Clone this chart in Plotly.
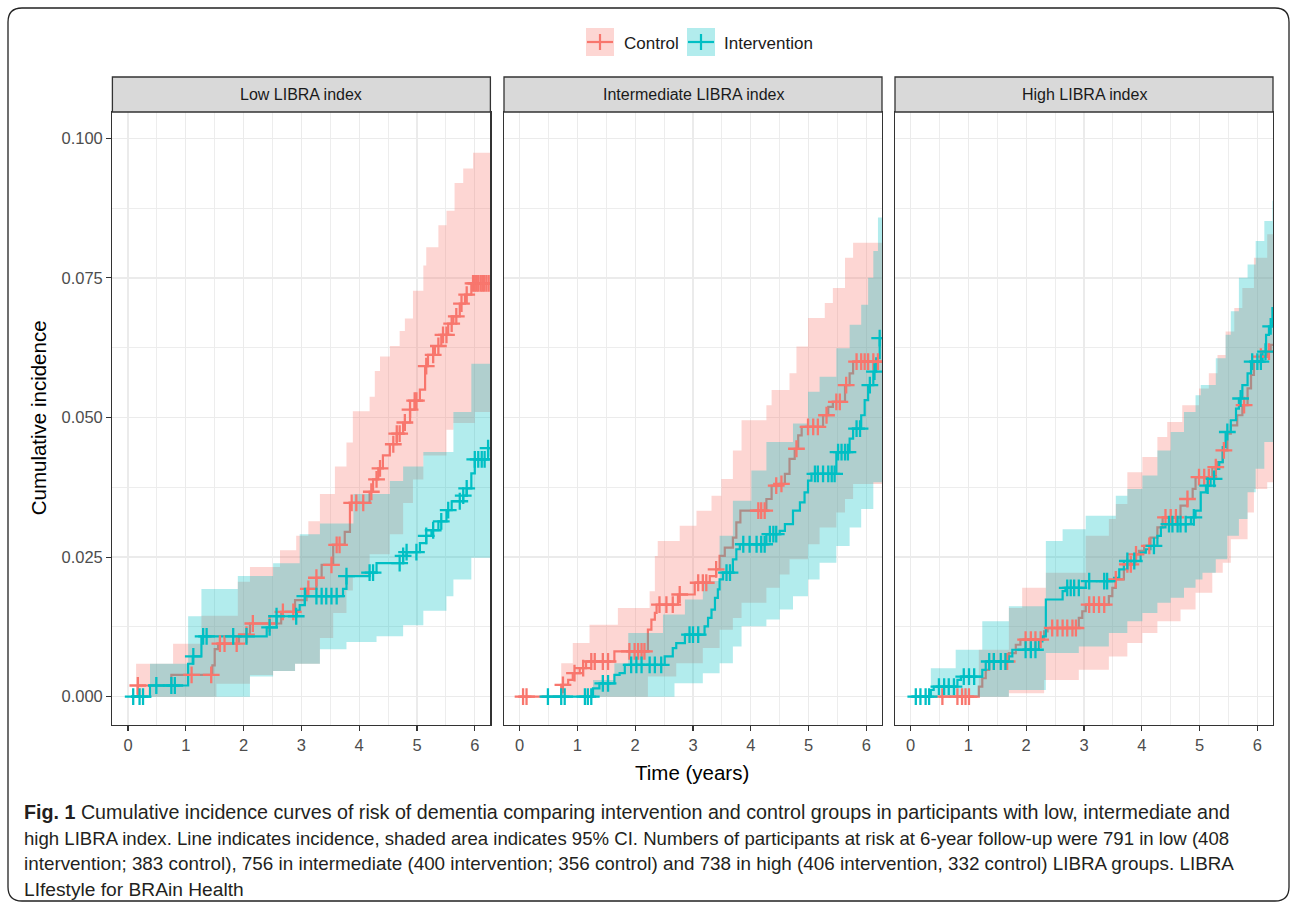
import plotly.graph_objects as go

W, H = 1292, 906
FONT = "Liberation Sans, Arial, Helvetica, sans-serif"
RED, TEAL = "#F8766D", "#00BFC4"
RED_FILL, TEAL_FILL = "rgba(248,118,109,0.3)", "rgba(0,191,196,0.3)"

panel_titles = ["Low LIBRA index", "Intermediate LIBRA index", "High LIBRA index"]
group_names = ["Control", "Intervention"]
x_ticks = [0, 1, 2, 3, 4, 5, 6]
x_minor = [0.5, 1.5, 2.5, 3.5, 4.5, 5.5]
y_ticks = [0.0, 0.025, 0.05, 0.075, 0.1]
y_tick_labels = ["0.000", "0.025", "0.050", "0.075", "0.100"]
y_minor = [0.0125, 0.0375, 0.0625, 0.0875]

# ---------------- Low LIBRA index ----------------
low_c_t = [0.10, 0.17, 0.75, 1.46, 1.50, 1.56, 1.92, 2.11, 2.65, 2.89, 3.09, 3.26, 3.35, 3.55, 3.75, 3.84, 4.18, 4.24,
           4.33, 4.41, 4.53, 4.65, 4.76, 4.88, 4.96, 5.05, 5.14, 5.19, 5.31, 5.42, 5.54, 5.63, 5.74, 5.83, 5.94, 6.28]
low_c_v = [0, 0.0020, 0.0039, 0.0056, 0.0085, 0.0095, 0.0111, 0.0131, 0.0152, 0.0173, 0.0193, 0.0213, 0.0236, 0.0272,
           0.0295, 0.0347, 0.0367, 0.0389, 0.0409, 0.0432, 0.0452, 0.0471, 0.0491, 0.0514, 0.0530, 0.0550, 0.0592,
           0.0612, 0.0628, 0.0648, 0.0668, 0.0681, 0.0704, 0.0720, 0.0740, 0.0740]
low_c_up_t = [0.14, 0.78, 1.27, 1.90, 2.11, 2.63, 2.91, 3.12, 3.32, 3.58, 3.78, 3.89, 4.18, 4.27, 4.36, 4.53, 4.70,
              4.79, 4.93, 5.11, 5.16, 5.37, 5.51, 5.65, 5.80, 5.97, 6.28]
low_c_up_v = [0.0059, 0.0095, 0.0145, 0.0206, 0.0232, 0.0262, 0.0288, 0.0314, 0.0363, 0.0412, 0.0455, 0.0511, 0.0537,
              0.0583, 0.0609, 0.0628, 0.0655, 0.0677, 0.0727, 0.0772, 0.0805, 0.0844, 0.0870, 0.0920, 0.0946, 0.0974,
              0.0974]
low_c_lo_t = [0.14, 1.53, 2.11, 2.51, 2.89, 3.32, 3.55, 3.78, 3.89, 4.18, 4.53, 4.76, 4.93, 5.11, 5.51, 5.63, 6.00, 6.28]
low_c_lo_v = [0, 0.0023, 0.0039, 0.0046, 0.0059, 0.0105, 0.0150, 0.0190, 0.0216, 0.0255, 0.0291, 0.0347, 0.0389,
              0.0432, 0.0478, 0.0490, 0.0510, 0.0510]
low_c_cens = [0.17, 1.10, 1.44, 1.59, 1.67, 1.88, 2.05, 2.16, 2.45, 2.68, 2.86, 3.12, 3.26, 3.52, 3.61, 3.66, 3.87,
              3.95, 4.07, 4.21, 4.30, 4.36, 4.59, 4.65, 4.70, 4.79, 4.88, 4.96, 4.99, 5.16, 5.28, 5.37, 5.45, 5.51,
              5.60, 5.68, 5.77, 5.86, 5.97, 6.00, 6.03, 6.06, 6.10, 6.13, 6.16, 6.20, 6.24]

low_i_t = [0.05, 0.38, 1.04, 1.12, 1.27, 2.40, 2.57, 2.92, 2.97, 3.06, 3.72, 3.78, 4.18, 4.30, 4.76, 4.82, 5.05, 5.16,
           5.25, 5.37, 5.51, 5.60, 5.80, 5.86, 5.94, 6.00, 6.23, 6.28]
low_i_v = [0, 0.0020, 0.0059, 0.0072, 0.0108, 0.0124, 0.0144, 0.0154, 0.0164, 0.0180, 0.0193, 0.0216, 0.0222, 0.0239,
           0.0252, 0.0259, 0.0275, 0.0288, 0.0298, 0.0314, 0.0334, 0.0350, 0.0360, 0.0373, 0.0400, 0.0425, 0.0445,
           0.0445]
low_i_up_t = [0.38, 1.04, 1.27, 1.90, 2.51, 2.97, 3.32, 3.90, 4.53, 4.76, 5.11, 5.63, 5.94, 6.28]
low_i_up_v = [0.0059, 0.0144, 0.0193, 0.0216, 0.0239, 0.0291, 0.0310, 0.0363, 0.0386, 0.0412, 0.0438, 0.0510, 0.0596,
              0.0596]
low_i_lo_t = [0.38, 2.11, 2.51, 2.89, 3.32, 3.78, 4.30, 4.76, 5.11, 5.51, 5.63, 5.94, 6.28]
low_i_lo_v = [0, 0.0036, 0.0046, 0.0059, 0.0085, 0.0098, 0.0108, 0.0128, 0.0154, 0.0180, 0.0210, 0.0249, 0.0249]
low_i_cens = [0.09, 0.20, 0.26, 0.49, 0.75, 0.81, 1.13, 1.30, 1.36, 1.82, 2.05, 2.45, 2.57, 2.91, 3.06, 3.26, 3.35,
              3.43, 3.52, 3.61, 3.78, 4.18, 4.24, 4.70, 4.76, 4.82, 4.99, 5.16, 5.28, 5.42, 5.54, 5.74, 5.80, 5.86,
              6.00, 6.06, 6.12, 6.17, 6.23]

# ---------------- Intermediate LIBRA index ----------------
int_c_t = [0.0, 0.72, 0.84, 0.92, 1.04, 1.15, 1.64, 2.22, 2.28, 2.34, 2.37, 2.74, 3.03, 3.29, 3.40, 3.46, 3.55, 3.69,
           3.75, 3.82, 4.27, 4.36, 4.50, 4.59, 4.67, 4.76, 4.82, 4.88, 5.25, 5.34, 5.42, 5.63, 5.71, 5.77, 6.28]
int_c_v = [0, 0.0021, 0.0030, 0.0042, 0.0051, 0.0063, 0.0081, 0.0120, 0.0138, 0.0150, 0.0165, 0.0183, 0.0204, 0.0216,
           0.0228, 0.0252, 0.0267, 0.0285, 0.0312, 0.0333, 0.0354, 0.0378, 0.0381, 0.0399, 0.0426, 0.0444, 0.0468,
           0.0483, 0.0504, 0.0519, 0.0528, 0.0558, 0.0579, 0.0600, 0.0600]
int_c_up_t = [0.72, 0.92, 1.21, 1.70, 2.25, 2.34, 2.39, 2.77, 3.06, 3.32, 3.49, 3.69, 3.84, 4.27, 4.36, 4.67, 4.79,
              4.99, 5.28, 5.42, 5.63, 5.77, 6.28]
int_c_up_v = [0.0060, 0.0096, 0.0129, 0.0159, 0.0189, 0.0252, 0.0279, 0.0306, 0.0333, 0.0360, 0.0390, 0.0441, 0.0495,
              0.0522, 0.0549, 0.0579, 0.0627, 0.0678, 0.0705, 0.0732, 0.0786, 0.0813, 0.0813]
int_c_lo_t = [0.72, 2.22, 2.71, 3.17, 3.46, 3.69, 3.84, 4.27, 4.50, 4.67, 4.99, 5.19, 5.48, 5.63, 5.77, 6.28]
int_c_lo_v = [0, 0.0036, 0.0060, 0.0087, 0.0120, 0.0141, 0.0168, 0.0195, 0.0219, 0.0246, 0.0273, 0.0303, 0.0330,
              0.0354, 0.0381, 0.0381]
int_c_cens = [0.06, 0.12, 0.75, 0.95, 1.10, 1.24, 1.30, 1.44, 1.53, 1.90, 1.99, 2.05, 2.11, 2.16, 2.42, 2.54, 2.65,
              2.77, 3.09, 3.17, 3.23, 3.40, 4.13, 4.18, 4.24, 4.44, 4.53, 4.79, 4.99, 5.08, 5.16, 5.31, 5.48, 5.54,
              5.65, 5.83, 5.91, 5.97, 6.03, 6.12, 6.20]

int_i_t = [0.38, 1.27, 1.38, 1.64, 1.73, 1.82, 2.51, 2.65, 2.71, 2.86, 3.20, 3.26, 3.32, 3.38, 3.43, 3.46, 3.52, 3.69,
           3.75, 3.81, 4.27, 4.50, 4.59, 4.73, 4.85, 4.93, 4.99, 5.05, 5.48, 5.71, 5.77, 5.91, 5.97, 6.03, 6.12, 6.17,
           6.23, 6.28]
int_i_v = [0, 0.0015, 0.0024, 0.0039, 0.0042, 0.0057, 0.0072, 0.0087, 0.0096, 0.0111, 0.0126, 0.0141, 0.0156, 0.0177,
           0.0192, 0.0210, 0.0222, 0.0246, 0.0264, 0.0273, 0.0291, 0.0297, 0.0309, 0.0333, 0.0348, 0.0366, 0.0387,
           0.0399, 0.0438, 0.0462, 0.0480, 0.0504, 0.0531, 0.0558, 0.0582, 0.0606, 0.0642, 0.0642]
int_i_up_t = [1.27, 1.64, 1.88, 2.48, 2.86, 3.17, 3.46, 3.69, 4.01, 4.27, 4.73, 4.99, 5.19, 5.48, 5.71, 5.91, 6.03,
              6.12, 6.20, 6.28]
int_i_up_v = [0.0030, 0.0060, 0.0114, 0.0147, 0.0174, 0.0207, 0.0288, 0.0351, 0.0405, 0.0456, 0.0489, 0.0546, 0.0573,
              0.0624, 0.0666, 0.0702, 0.0750, 0.0798, 0.0858, 0.0858]
int_i_lo_t = [1.27, 2.68, 3.17, 3.46, 3.69, 3.84, 4.27, 4.50, 4.73, 4.99, 5.19, 5.48, 5.71, 5.91, 6.12, 6.28]
int_i_lo_v = [0, 0.0024, 0.0042, 0.0060, 0.0090, 0.0126, 0.0138, 0.0156, 0.0180, 0.0210, 0.0240, 0.0270, 0.0303,
              0.0336, 0.0384, 0.0384]
int_i_cens = [0.49, 0.72, 0.78, 1.13, 1.18, 1.24, 1.44, 1.53, 1.93, 2.02, 2.11, 2.25, 2.34, 2.45, 2.94, 3.00, 3.09,
              3.58, 3.64, 3.87, 3.98, 4.10, 4.18, 4.24, 4.33, 4.39, 4.44, 5.11, 5.16, 5.25, 5.34, 5.40, 5.45, 5.51,
              5.57, 5.63, 5.68, 5.83, 5.89, 6.06, 6.14, 6.23]

# ---------------- High LIBRA index ----------------
high_c_t = [0.49, 1.18, 1.24, 1.30, 1.36, 1.70, 1.82, 1.90, 2.31, 2.37, 2.91, 2.97, 3.03, 3.43, 3.49, 3.55, 3.69, 3.75,
            3.87, 3.95, 4.04, 4.15, 4.27, 4.36, 4.67, 4.79, 4.88, 4.93, 5.22, 5.31, 5.40, 5.48, 5.54, 5.65, 5.74, 5.83,
            5.89, 5.94, 6.06, 6.17, 6.23, 6.28]
high_c_v = [0, 0.0018, 0.0033, 0.0048, 0.0063, 0.0078, 0.0093, 0.0102, 0.0117, 0.0123, 0.0141, 0.0153, 0.0165, 0.0180,
            0.0195, 0.0210, 0.0228, 0.0237, 0.0255, 0.0261, 0.0270, 0.0285, 0.0303, 0.0321, 0.0342, 0.0354, 0.0372,
            0.0393, 0.0411, 0.0420, 0.0441, 0.0471, 0.0486, 0.0504, 0.0522, 0.0552, 0.0576, 0.0600, 0.0609, 0.0618,
            0.0630, 0.0630]
high_c_up_t = [1.18, 1.70, 1.93, 2.34, 3.03, 3.43, 3.55, 3.75, 4.01, 4.27, 4.44, 4.70, 4.99, 5.16, 5.31, 5.45, 5.60,
               5.74, 5.94, 6.17, 6.28]
high_c_up_v = [0.0084, 0.0159, 0.0195, 0.0222, 0.0288, 0.0318, 0.0345, 0.0402, 0.0429, 0.0465, 0.0492, 0.0522, 0.0552,
               0.0579, 0.0612, 0.0654, 0.0696, 0.0732, 0.0786, 0.0828, 0.0828]
high_c_lo_t = [1.18, 1.70, 2.31, 2.91, 3.43, 3.75, 4.01, 4.27, 4.67, 4.93, 5.22, 5.40, 5.54, 5.83, 5.94, 6.17, 6.28]
high_c_lo_v = [0, 0.0006, 0.0030, 0.0048, 0.0072, 0.0096, 0.0114, 0.0135, 0.0156, 0.0186, 0.0222, 0.0240, 0.0282,
               0.0330, 0.0372, 0.0384, 0.0384]
high_c_cens = [0.55, 0.81, 0.89, 0.95, 1.01, 1.44, 1.67, 1.99, 2.08, 2.16, 2.25, 2.45, 2.54, 2.63, 2.71, 2.80, 2.86,
               3.09, 3.17, 3.26, 3.35, 3.55, 3.75, 3.81, 3.90, 4.13, 4.41, 4.50, 4.59, 4.79, 4.99, 5.08, 5.16, 5.28,
               5.42, 5.77, 6.06, 6.20]

high_i_t = [0.0, 0.35, 0.40, 0.81, 0.87, 1.24, 1.30, 1.70, 1.76, 2.22, 2.28, 2.34, 2.63, 2.68, 3.03, 3.52, 3.61, 3.69,
            3.98, 4.07, 4.15, 4.27, 4.33, 4.41, 4.85, 4.93, 5.02, 5.11, 5.19, 5.28, 5.34, 5.40, 5.45, 5.54, 5.63, 5.68,
            5.74, 5.83, 5.89, 6.09, 6.15, 6.20, 6.26, 6.28]
high_i_v = [0, 0.0012, 0.0018, 0.0030, 0.0036, 0.0048, 0.0063, 0.0072, 0.0084, 0.0099, 0.0108, 0.0174, 0.0189, 0.0195,
            0.0207, 0.0213, 0.0228, 0.0243, 0.0258, 0.0264, 0.0270, 0.0288, 0.0303, 0.0309, 0.0321, 0.0333, 0.0366,
            0.0378, 0.0390, 0.0408, 0.0420, 0.0447, 0.0474, 0.0495, 0.0516, 0.0534, 0.0558, 0.0579, 0.0600, 0.0618,
            0.0648, 0.0663, 0.0696, 0.0696]
high_i_up_t = [0.35, 0.78, 1.24, 1.70, 2.34, 2.63, 3.03, 3.55, 3.75, 4.01, 4.27, 4.50, 4.73, 4.93, 5.02, 5.28, 5.45,
               5.54, 5.68, 5.83, 5.97, 6.12, 6.26, 6.28]
high_i_up_v = [0.0051, 0.0084, 0.0135, 0.0162, 0.0279, 0.0300, 0.0324, 0.0360, 0.0372, 0.0396, 0.0441, 0.0474, 0.0510,
               0.0540, 0.0558, 0.0606, 0.0648, 0.0690, 0.0750, 0.0774, 0.0816, 0.0852, 0.0888, 0.0888]
high_i_lo_t = [0.35, 1.70, 2.34, 2.91, 3.43, 3.75, 4.01, 4.27, 4.50, 4.73, 4.93, 5.05, 5.28, 5.48, 5.68, 5.83, 5.97,
               6.12, 6.28]
high_i_lo_v = [0, 0.0012, 0.0078, 0.0090, 0.0114, 0.0135, 0.0150, 0.0168, 0.0177, 0.0195, 0.0210, 0.0222, 0.0246,
               0.0288, 0.0318, 0.0366, 0.0408, 0.0456, 0.0456]
high_i_cens = [0.09, 0.17, 0.26, 0.32, 0.49, 0.58, 0.66, 0.75, 0.92, 1.01, 1.10, 1.36, 1.44, 1.56, 1.64, 1.99, 2.08,
               2.16, 2.71, 2.77, 2.83, 2.91, 3.09, 3.35, 3.40, 3.75, 3.87, 4.21, 4.47, 4.53, 4.62, 4.67, 4.76, 4.90,
               5.14, 5.25, 5.48, 5.71, 5.91, 6.00, 6.06, 6.14, 6.23]

caption_lines = [
    "<b>Fig. 1</b> Cumulative incidence curves of risk of dementia comparing intervention and control groups in participants with low, intermediate and",
    "high LIBRA index. Line indicates incidence, shaded area indicates 95% CI. Numbers of participants at risk at 6-year follow-up were 791 in low (408",
    "intervention; 383 control), 756 in intermediate (400 intervention; 356 control) and 738 in high (406 intervention, 332 control) LIBRA groups. LIBRA",
    "LIfestyle for BRAin Health",
]
caption_sizes = [19.7, 18.6, 18.85, 19.2]

panels = [
    dict(ctrl=(low_c_t, low_c_v, low_c_lo_t, low_c_lo_v, low_c_up_t, low_c_up_v, low_c_cens),
         intv=(low_i_t, low_i_v, low_i_lo_t, low_i_lo_v, low_i_up_t, low_i_up_v, low_i_cens)),
    dict(ctrl=(int_c_t, int_c_v, int_c_lo_t, int_c_lo_v, int_c_up_t, int_c_up_v, int_c_cens),
         intv=(int_i_t, int_i_v, int_i_lo_t, int_i_lo_v, int_i_up_t, int_i_up_v, int_i_cens)),
    dict(ctrl=(high_c_t, high_c_v, high_c_lo_t, high_c_lo_v, high_c_up_t, high_c_up_v, high_c_cens),
         intv=(high_i_t, high_i_v, high_i_lo_t, high_i_lo_v, high_i_up_t, high_i_up_v, high_i_cens)),
]


def step_at(ts, vs, t):
    """Value of a right-continuous step function at time t."""
    v = vs[0]
    for ti, vi in zip(ts, vs):
        if ti <= t + 1e-9:
            v = vi
        else:
            break
    return v


def px(x):
    return x / W


def py(y):
    return 1 - y / H


panel_x = [(112.4, 490.4), (504.0, 882.0), (895.0, 1273.0)]
panel_top, panel_bot = 112.0, 724.6
strip_top = 77.0

fig = go.Figure()

for i, pdata in enumerate(panels):
    sfx = "" if i == 0 else str(i + 1)
    xa, ya = "x" + sfx, "y" + sfx

    def band(lo_t, lo_v, up_t, up_v, fillc):
        fig.add_trace(go.Scatter(x=lo_t, y=lo_v, mode="lines", line=dict(width=0, shape="hv"),
                                 hoverinfo="skip", showlegend=False, xaxis=xa, yaxis=ya))
        fig.add_trace(go.Scatter(x=up_t, y=up_v, mode="lines", line=dict(width=0, shape="hv"),
                                 fill="tonexty", fillcolor=fillc, hoverinfo="skip", showlegend=False,
                                 xaxis=xa, yaxis=ya))

    def curve(t, v, col):
        fig.add_trace(go.Scatter(x=t, y=v, mode="lines", line=dict(width=2.2, color=col, shape="hv"),
                                 hoverinfo="skip", showlegend=False, xaxis=xa, yaxis=ya))

    def cens(t, v, ct, col):
        fig.add_trace(go.Scatter(x=ct, y=[step_at(t, v, c) for c in ct], mode="markers",
                                 marker=dict(symbol="cross-thin", size=12, line=dict(width=2.3, color=col), color=col),
                                 hoverinfo="skip", showlegend=False, xaxis=xa, yaxis=ya))

    c = pdata["ctrl"]
    n = pdata["intv"]
    band(c[2], c[3], c[4], c[5], RED_FILL)
    curve(c[0], c[1], RED)
    band(n[2], n[3], n[4], n[5], TEAL_FILL)
    curve(n[0], n[1], TEAL)
    cens(c[0], c[1], c[6], RED)
    cens(n[0], n[1], n[6], TEAL)

tickfont = dict(family=FONT, size=16.5, color="#4D4D4D")
layout = dict(
    width=W, height=H, autosize=False,
    margin=dict(l=0, r=0, t=0, b=0),
    paper_bgcolor="white", plot_bgcolor="white",
    showlegend=False, hovermode=False,
    font=dict(family=FONT, color="#1A1A1A"),
)
for i, (x0, x1) in enumerate(panel_x):
    sfx = "" if i == 0 else str(i + 1)
    layout["xaxis" + sfx] = dict(
        domain=[px(x0), px(x1)], anchor="y" + sfx, range=[-0.27, 6.27],
        tickmode="array", tickvals=x_ticks, ticktext=[str(v) for v in x_ticks],
        ticks="outside", ticklen=5, tickwidth=1.1, tickcolor="#333333",
        showline=True, mirror=True, linecolor="#333333", linewidth=1.3,
        showgrid=True, gridcolor="#EBEBEB", gridwidth=1.3, zeroline=False,
        minor=dict(tickmode="array", tickvals=x_minor, showgrid=True, gridcolor="#EBEBEB", gridwidth=0.9, ticks=""),
        tickfont=tickfont, fixedrange=True,
    )
    layout["yaxis" + sfx] = dict(
        domain=[py(panel_bot), py(panel_top)], anchor="x" + sfx, range=[-0.005, 0.1047],
        tickmode="array", tickvals=y_ticks, ticktext=y_tick_labels,
        ticks="outside" if i == 0 else "", ticklen=5, tickwidth=1.1, tickcolor="#333333",
        showticklabels=(i == 0),
        showline=True, mirror=True, linecolor="#333333", linewidth=1.3,
        showgrid=True, gridcolor="#EBEBEB", gridwidth=1.3, zeroline=False,
        minor=dict(tickmode="array", tickvals=y_minor, showgrid=True, gridcolor="#EBEBEB", gridwidth=0.9, ticks=""),
        tickfont=tickfont, fixedrange=True,
    )

shapes = []
annotations = []
for i, (x0, x1) in enumerate(panel_x):
    shapes.append(dict(type="rect", xref="paper", yref="paper", x0=px(x0), x1=px(x1),
                       y0=py(panel_top), y1=py(strip_top), fillcolor="#D9D9D9",
                       line=dict(color="#333333", width=1.3), layer="above"))
    annotations.append(dict(text=panel_titles[i], xref="paper", yref="paper", x=px((x0 + x1) / 2),
                            y=py((panel_top + strip_top) / 2), showarrow=False, xanchor="center", yanchor="middle",
                            font=dict(family=FONT, size=16, color="#1A1A1A")))

# legend (manual, top centre)
leg_items = [(group_names[0], RED, RED_FILL, 586.0, 622.0), (group_names[1], TEAL, TEAL_FILL, 687.0, 722.0)]
for name, col, fillc, bx, tx in leg_items:
    shapes.append(dict(type="rect", xref="paper", yref="paper", x0=px(bx), x1=px(bx + 28), y0=py(56), y1=py(28),
                       fillcolor=fillc, line=dict(width=0)))
    shapes.append(dict(type="line", xref="paper", yref="paper", x0=px(bx + 1), x1=px(bx + 27), y0=py(42), y1=py(42),
                       line=dict(color=col, width=2.2)))
    shapes.append(dict(type="line", xref="paper", yref="paper", x0=px(bx + 14), x1=px(bx + 14), y0=py(50), y1=py(34),
                       line=dict(color=col, width=2.2)))
    annotations.append(dict(text=name, xref="paper", yref="paper", x=px(tx), y=py(43), showarrow=False,
                            xanchor="left", yanchor="middle", font=dict(family=FONT, size=17, color="#1A1A1A")))

# axis titles
annotations.append(dict(text="Cumulative incidence", xref="paper", yref="paper", x=px(38), y=py((panel_top + panel_bot) / 2),
                        textangle=-90, showarrow=False, xanchor="center", yanchor="middle",
                        font=dict(family=FONT, size=20.5, color="#000000")))
annotations.append(dict(text="Time (years)", xref="paper", yref="paper", x=px(692), y=py(772),
                        showarrow=False, xanchor="center", yanchor="middle",
                        font=dict(family=FONT, size=20.5, color="#000000")))

# caption
cap_y = [812, 838, 863, 889]
for line, yy, fs in zip(caption_lines, cap_y, caption_sizes):
    annotations.append(dict(text=line, xref="paper", yref="paper", x=px(22), y=py(yy), showarrow=False,
                            xanchor="left", yanchor="middle", font=dict(family=FONT, size=fs, color="#231F20")))

# rounded figure frame
fx0, fx1, fy0, fy1 = px(8), px(1289), py(8), py(901)
rx, ry = 14 / W, 14 / H
frame = (f"M {fx0 + rx},{fy0} L {fx1 - rx},{fy0} Q {fx1},{fy0} {fx1},{fy0 - ry} "
         f"L {fx1},{fy1 + ry} Q {fx1},{fy1} {fx1 - rx},{fy1} L {fx0 + rx},{fy1} "
         f"Q {fx0},{fy1} {fx0},{fy1 + ry} L {fx0},{fy0 - ry} Q {fx0},{fy0} {fx0 + rx},{fy0} Z")
shapes.append(dict(type="path", xref="paper", yref="paper", path=frame, line=dict(color="#222222", width=1.3)))

layout["shapes"] = shapes
layout["annotations"] = annotations
fig.update_layout(**layout)

fig.write_html("out.html", config={"displayModeBar": False, "staticPlot": True},
               post_script="document.body.style.margin='0';")
